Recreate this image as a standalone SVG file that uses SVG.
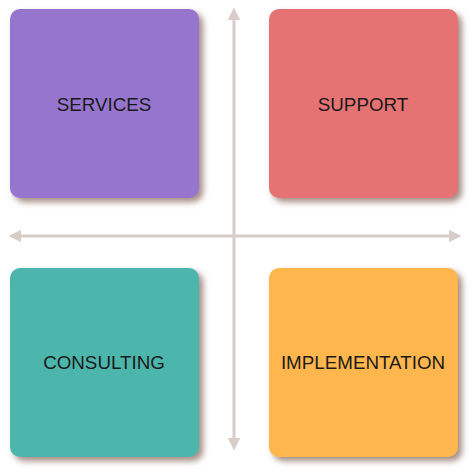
<svg xmlns="http://www.w3.org/2000/svg" width="474" height="473" viewBox="0 0 474 473">
<defs>
<style>
.box{filter:url(#sh)}
.lbl{font-family:"Liberation Sans",Arial,sans-serif;font-size:18.8px;fill:#1a1a1a;text-anchor:middle;dominant-baseline:central}
.ax{stroke:#d7ccc8;stroke-width:3;fill:none}
</style>
<filter id="sh" x="-10%" y="-10%" width="130%" height="130%">
<feGaussianBlur in="SourceAlpha" stdDeviation="3"/>
<feOffset dx="4" dy="4" result="b"/>
<feFlood flood-color="#8d6e63" flood-opacity="0.8"/>
<feComposite in2="b" operator="in"/>
<feMerge><feMergeNode/><feMergeNode in="SourceGraphic"/></feMerge>
</filter>
<marker id="ah" viewBox="0 0 10 10" refX="5" refY="5" markerWidth="4.3" markerHeight="4.3" orient="auto-start-reverse" markerUnits="strokeWidth">
<path d="M0,0 L10,5 L0,10 z" fill="#d7ccc8"/>
</marker>
</defs>
<g id="connectors">
<line class="ax" x1="234" y1="14" x2="234" y2="444" marker-start="url(#ah)" marker-end="url(#ah)"/>
<line class="ax" x1="15" y1="236" x2="455" y2="236" marker-start="url(#ah)" marker-end="url(#ah)"/>
</g>
<g id="services"><rect class="box" x="10" y="9" width="189" height="189" rx="10" fill="#9575cd"/><text class="lbl" x="104" y="104">SERVICES</text></g>
<g id="support"><rect class="box" x="269" y="9" width="189" height="189" rx="10" fill="#e57373"/><text class="lbl" x="363" y="104">SUPPORT</text></g>
<g id="consulting"><rect class="box" x="10" y="268" width="189" height="189" rx="10" fill="#4db6ac"/><text class="lbl" x="104" y="362">CONSULTING</text></g>
<g id="implementation"><rect class="box" x="269" y="268" width="189" height="189" rx="10" fill="#ffb74d"/><text class="lbl" x="363" y="362">IMPLEMENTATION</text></g>
</svg>
